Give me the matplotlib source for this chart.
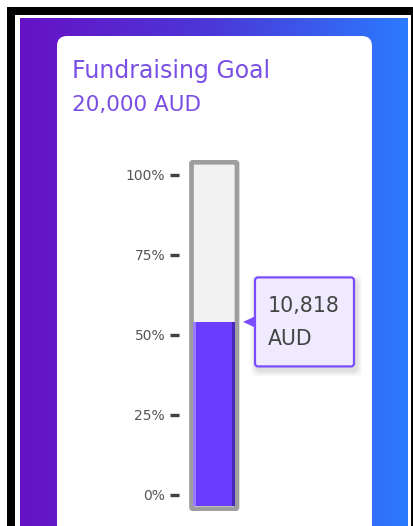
import numpy as np
import matplotlib
matplotlib.use("Agg")
import matplotlib.pyplot as plt
from matplotlib.patches import FancyBboxPatch, Rectangle, Polygon
from matplotlib.colors import LinearSegmentedColormap

# ---- data ----
title = "Fundraising Goal"
goal = 20000
currency = "AUD"
raised = 10818
tick_values = [0, 25, 50, 75, 100]
tick_labels = ["0%", "25%", "50%", "75%", "100%"]

W, H = 414, 526
DPI = 100
FONT = "DejaVu Sans"
fig = plt.figure(figsize=(W / DPI, H / DPI), dpi=DPI)
fig.patch.set_facecolor("white")

# background / decoration axes in pixel coordinates
bg = fig.add_axes([0, 0, 1, 1], zorder=0)
bg.set_xlim(0, W)
bg.set_ylim(H, 0)
bg.axis("off")

# black frame
bg.add_patch(Rectangle((7, 7), W - 7, H, facecolor="black", edgecolor="none"))
bg.add_patch(Rectangle((15, 15), 396, H, facecolor="white", edgecolor="none"))

# gradient panel
cmap = LinearSegmentedColormap.from_list("g", ["#6612c6", "#4b38d8", "#2b7bff"])
grad = np.linspace(0, 1, 256).reshape(1, -1)
bg.imshow(grad, cmap=cmap, aspect="auto", extent=(20, 408, H, 18), zorder=1)

# white card
bg.add_patch(FancyBboxPatch((57, 36), 315, 520, boxstyle="round,pad=0,rounding_size=10",
                            facecolor="white", edgecolor="none", zorder=2))

bg.text(72, 78, title, fontsize=17, color="#7a4fe3", family=FONT, zorder=3,
        va="baseline", ha="left")
bg.text(72, 111, f"{goal:,} {currency}", fontsize=15.5, color="#7a4fe3", family=FONT,
        zorder=3, va="baseline", ha="left")

# thermometer axes: y in percent, pixel y = 495 - 3.2 * pct
y_top_px, y_bot_px = 160, 511
pct_top = (495 - y_top_px) / 3.2
pct_bot = (495 - y_bot_px) / 3.2
ax_left_px, ax_right_px = 179, 240
ax = fig.add_axes([ax_left_px / W, (H - y_bot_px) / H,
                   (ax_right_px - ax_left_px) / W, (y_bot_px - y_top_px) / H], zorder=1)
ax.patch.set_alpha(0)
ax.set_xlim(ax_left_px, ax_right_px)
ax.set_ylim(pct_bot, pct_top)
for s in ax.spines.values():
    s.set_visible(False)
ax.set_xticks([])
ax.set_yticks(tick_values)
ax.set_yticklabels(tick_labels, family=FONT, fontsize=10, color="#555555")
ax.tick_params(axis="y", length=6.5, width=2.4, color="#404040", pad=3.5)

# tube
tube_l, tube_r = 191.5, 237
ax.add_patch(FancyBboxPatch((tube_l, pct_bot + 0.7), tube_r - tube_l, pct_top - pct_bot - 1.4,
                            boxstyle="round,pad=0,rounding_size=1.5",
                            facecolor="#f2f2f2", edgecolor="#9e9e9e", linewidth=3.4,
                            mutation_aspect=1 / 3.2, zorder=1))

# fill bar
pct = raised / goal * 100
fill_bottom = (495 - 506) / 3.2
inner_l, inner_r = 193.5, 235
ax.bar((inner_l + inner_r) / 2, pct - fill_bottom, bottom=fill_bottom,
       width=inner_r - inner_l, color="#6a3cff", zorder=2)
ax.bar(inner_l + 1.5, pct - fill_bottom, bottom=fill_bottom, width=3,
       color="#9a7cff", zorder=3)
ax.bar(inner_r - 1.5, pct - fill_bottom, bottom=fill_bottom, width=3,
       color="#4a27b8", zorder=3)

# tooltip (top overlay, pixel coords)
top = fig.add_axes([0, 0, 1, 1], zorder=3)
top.set_xlim(0, W)
top.set_ylim(H, 0)
top.axis("off")
disp = ax.transData.transform((inner_r, pct))
ty = top.transData.inverted().transform(disp)[1]
bx0, bx1 = 255, 354
bh = 89
by0 = ty - bh / 2
for i, a in enumerate([0.05, 0.04, 0.03]):
    d = 2 + i * 2
    top.add_patch(FancyBboxPatch((bx0 - d + 2, by0 - d + 4), bx1 - bx0 + 2 * d, bh + 2 * d,
                                 boxstyle="round,pad=0,rounding_size=6",
                                 facecolor="black", edgecolor="none", alpha=a, zorder=1))
top.add_patch(FancyBboxPatch((bx0, by0), bx1 - bx0, bh,
                             boxstyle="round,pad=0,rounding_size=3",
                             facecolor="#efeafe", edgecolor="#7c4dff", linewidth=1.6, zorder=2))
top.add_patch(Polygon([[243, ty], [256, ty - 6], [256, ty + 6]], closed=True,
                      facecolor="#7c4dff", edgecolor="none", zorder=3))
top.text(268, ty - 16, f"{raised:,}", fontsize=14.8, color="#444444", family=FONT,
         va="center", ha="left", zorder=4)
top.text(268, ty + 17, currency, fontsize=14.8, color="#444444", family=FONT,
         va="center", ha="left", zorder=4)

fig.savefig("out.png", dpi=DPI)
